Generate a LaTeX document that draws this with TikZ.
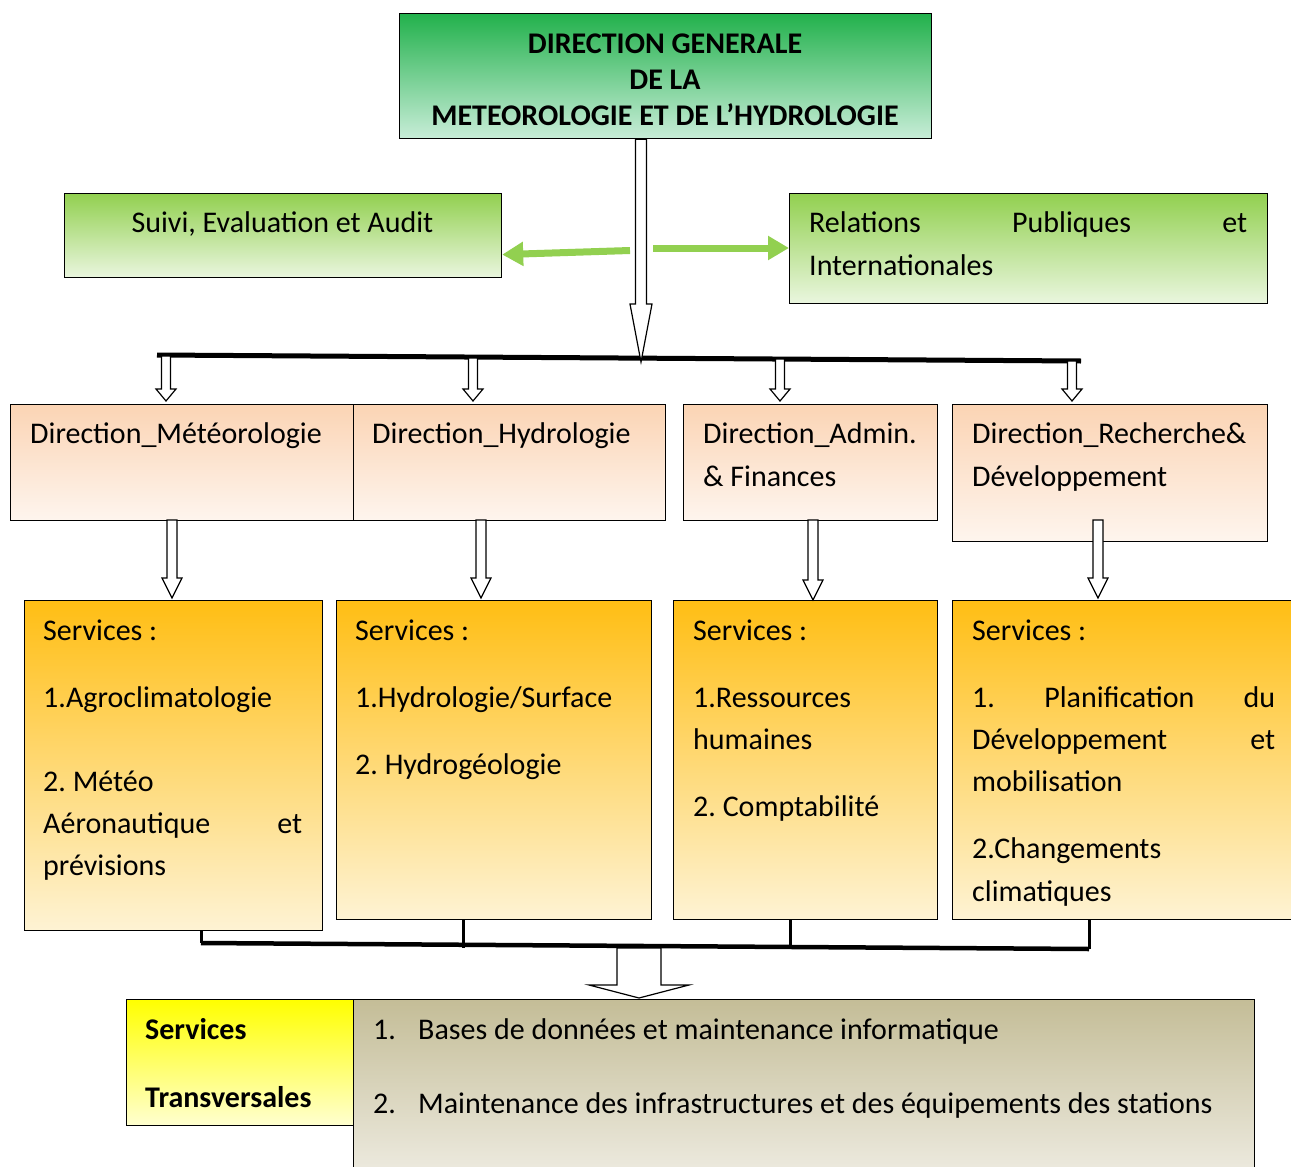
\documentclass[tikz,border=0pt]{standalone}
\usepackage{fontspec}
\setmainfont{Carlito}
\usetikzlibrary{calc,arrows.meta}
\frenchspacing

\definecolor{dgtop}{RGB}{34,177,76}
\definecolor{dgbot}{RGB}{200,237,216}
\definecolor{gtop}{RGB}{146,208,80}
\definecolor{gbot}{RGB}{234,246,223}
\definecolor{ptop}{RGB}{251,212,180}
\definecolor{pbot}{RGB}{254,245,238}
\definecolor{otop}{RGB}{255,190,20}
\definecolor{obot}{RGB}{254,243,212}
\definecolor{ytop}{RGB}{255,255,0}
\definecolor{ybot}{RGB}{255,255,208}
\definecolor{ktop}{RGB}{196,189,151}
\definecolor{kbot}{RGB}{243,241,234}
\definecolor{linkgreen}{RGB}{146,208,80}

\tikzset{
  box/.style={draw=black, line width=1.2pt, inner sep=0pt, anchor=north west},
  txt/.style={anchor=base west, inner sep=0pt, font=\fontsize{30}{36}\selectfont},
  btxt/.style={txt, font=\fontsize{30}{36}\selectfont\bfseries},
  ctxt/.style={anchor=base, inner sep=0pt, font=\fontsize{30}{36}\selectfont\bfseries},
  blockarrow/.style={draw=black, fill=white, line width=1.2pt, line join=miter},
  link/.style={draw=linkgreen, line width=7pt, -{Triangle[length=21pt,width=23pt]}},
  bar/.style={line width=5pt},
  bracket/.style={line width=3pt},
}

% hollow block arrow pointing down: start, end, shaft half width, head half width, head length
\newcommand\vblockarrow[5]{%
  \filldraw[blockarrow] let \p1=(#1), \p2=(#2) in
    (\x1-#3,\y1) -- (\x1-#3,\y2+#5) -- (\x1-#4,\y2+#5) -- (\x1,\y2)
    -- (\x1+#4,\y2+#5) -- (\x1+#3,\y2+#5) -- (\x1+#3,\y1) -- cycle;
}

\begin{document}
\begin{tikzpicture}[x=1pt,y=-1pt]
\useasboundingbox (0,0) rectangle (1291,1167);
\clip (0,0) rectangle (1291,1167);

% ---- boxes ----
\node[box, top color=dgtop, bottom color=dgbot, minimum width=532pt, minimum height=125pt] (dg) at (399,13) {};
\node[box, top color=gtop, bottom color=gbot, minimum width=437pt, minimum height=84pt] (sea) at (64,193) {};
\node[box, top color=gtop, bottom color=gbot, minimum width=478pt, minimum height=110pt] (rpi) at (789,193) {};

\node[box, top color=ptop, bottom color=pbot, minimum width=343pt, minimum height=116pt] (dmet) at (10,404) {};
\node[box, top color=ptop, bottom color=pbot, minimum width=312pt, minimum height=116pt] (dhyd) at (353,404) {};
\node[box, top color=ptop, bottom color=pbot, minimum width=254pt, minimum height=116pt] (daf) at (683,404) {};
\node[box, top color=ptop, bottom color=pbot, minimum width=315pt, minimum height=137pt] (drd) at (952,404) {};

\node[box, top color=otop, bottom color=obot, minimum width=298pt, minimum height=330pt] (smet) at (24,600) {};
\node[box, top color=otop, bottom color=obot, minimum width=315pt, minimum height=319pt] (shyd) at (336,600) {};
\node[box, top color=otop, bottom color=obot, minimum width=264pt, minimum height=319pt] (saf) at (673,600) {};
\node[box, top color=otop, bottom color=obot, minimum width=350pt, minimum height=319pt] (srd) at (952,600) {};

\node[box, top color=ytop, bottom color=ybot, minimum width=227pt, minimum height=126pt] (stl) at (126,999) {};
\node[box, top color=ktop, bottom color=kbot, minimum width=901pt, minimum height=200pt] (str) at (353,999) {};

% ---- texts ----
\node[ctxt] (dg1) at (665,53) {DIRECTION GENERALE};
\node[ctxt] (dg2) at (665,89) {DE LA};
\node[ctxt] (dg3) at (665,125) {METEOROLOGIE ET DE L’HYDROLOGIE};

\node[txt, anchor=base] (sea1) at (282.5,232) {Suivi, Evaluation et Audit};
\node[txt] (rpi1) at (809,232) {\hbox to 438pt{Relations\hfill Publiques\hfill et}};
\node[txt] (rpi2) at (809,275) {Internationales};

\node[txt] (dmet1) at (30,443) {Direction\_Météorologie};
\node[txt] (dhyd1) at (372,443) {Direction\_Hydrologie};
\node[txt] (daf1) at (703,443) {Direction\_Admin.};
\node[txt] (daf2) at (703,486) {\& Finances};
\node[txt] (drd1) at (972,443) {Direction\_Recherche\&};
\node[txt] (drd2) at (972,486) {Développement};

\node[txt] (smet1) at (43,640) {Services :};
\node[txt] (smet2) at (43,707) {1.Agroclimatologie};
\node[txt] (smet3) at (43,791) {2. Météo};
\node[txt] (smet4) at (43,833) {\hbox to 259pt{Aéronautique\hfill et}};
\node[txt] (smet5) at (43,875) {prévisions};

\node[txt] (shyd1) at (355,640) {Services :};
\node[txt] (shyd2) at (355,707) {1.Hydrologie/Surface};
\node[txt] (shyd3) at (355,774) {2. Hydrogéologie};

\node[txt] (saf1) at (693,640) {Services :};
\node[txt] (saf2) at (693,707) {1.Ressources};
\node[txt] (saf3) at (693,749) {humaines};
\node[txt] (saf4) at (693,816) {2. Comptabilité};

\node[txt] (srd1) at (972,640) {Services :};
\node[txt] (srd2) at (972,707) {\hbox to 303pt{1.\hfill Planification\hfill du}};
\node[txt] (srd3) at (972,749) {\hbox to 303pt{Développement\hfill et}};
\node[txt] (srd4) at (972,791) {mobilisation};
\node[txt] (srd5) at (972,858) {2.Changements};
\node[txt] (srd6) at (972,901) {climatiques};

\node[btxt] (stl1) at (145,1039) {Services};
\node[btxt] (stl2) at (145,1107) {Transversales};

\node[txt] (str1n) at (373,1039) {1.};
\node[txt] (str1) at (418,1039) {Bases de données et maintenance informatique};
\node[txt] (str2n) at (373,1113) {2.};
\node[txt] (str2) at (418,1113) {Maintenance des infrastructures et des équipements des stations};

% ---- distribution bar ----
\coordinate (barL) at (157,355);
\coordinate (barR) at (1081,361);
\draw[bar] (barL) -- (barR);

% central arrow from the general direction
\coordinate (hub) at (641,362);
\vblockarrow{hub |- dg.south}{hub}{5.5pt}{11pt}{58pt}

% side links
\coordinate (gl) at (630,250.5);
\coordinate (gr) at (653,248);
\draw[link] (gl) -- ([yshift=-19pt]sea.east);
\draw[link] (gr) -- (rpi.west |- gr);

% arrows from the bar to the directions
\coordinate (t1) at (166,356);
\coordinate (t2) at (473,358);
\coordinate (t3) at (780,359);
\coordinate (t4) at (1072,361);
\vblockarrow{t1}{[yshift=3pt]t1 |- dmet.north}{4.5pt}{10pt}{12pt}
\vblockarrow{t2}{[yshift=3pt]t2 |- dhyd.north}{4.5pt}{10pt}{12pt}
\vblockarrow{t3}{[yshift=3pt]t3 |- daf.north}{4.5pt}{10pt}{12pt}
\vblockarrow{t4}{[yshift=3pt]t4 |- drd.north}{4.5pt}{10pt}{12pt}

% arrows from the directions to their services
\coordinate (d1) at (172,520);
\coordinate (d2) at (481,520);
\coordinate (d3) at (813,520);
\coordinate (d4) at (1098,520);
\vblockarrow{d1}{[yshift=2pt]d1 |- smet.north}{5pt}{10pt}{20pt}
\vblockarrow{d2}{[yshift=2pt]d2 |- shyd.north}{5pt}{10pt}{20pt}
\vblockarrow{d3}{d3 |- saf.north}{5pt}{10pt}{20pt}
\vblockarrow{d4}{[yshift=2pt]d4 |- srd.north}{5pt}{10pt}{20pt}

% bracket gathering the services
\coordinate (bL) at (201,943);
\coordinate (bR) at (1089,949);
\coordinate (v2) at (463,948);
\coordinate (v3) at (790,946);
\draw[bracket] (bL |- smet.south) -- (bL);
\draw[bracket] (v2 |- shyd.south) -- (v2);
\draw[bracket] (v3 |- saf.south) -- (v3);
\draw[bracket] (bR |- srd.south) -- (bR);
\draw[line width=4.5pt] (bL) -- (bR);

% arrow to the transversal services
\coordinate (b0) at (639,948);
\vblockarrow{b0}{[yshift=1pt]b0 |- str.north}{22pt}{50pt}{13pt}
\end{tikzpicture}
\end{document}
